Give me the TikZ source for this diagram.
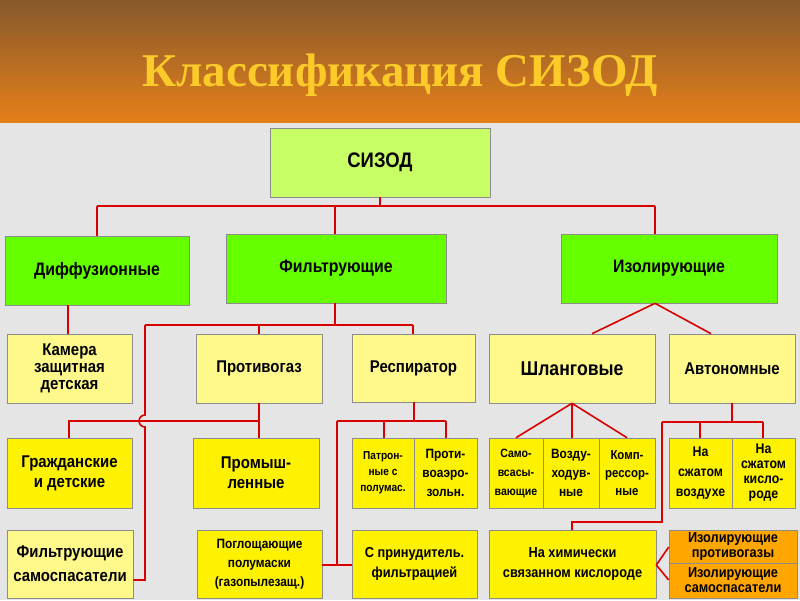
\documentclass[tikz,border=0pt]{standalone}
\usepackage{fontspec}
\setmainfont{Liberation Sans}[FakeStretch=0.88]
\newfontfamily\titlefont{Liberation Serif}
\begin{document}
\begin{tikzpicture}[x=1pt,y=-1pt,
  bx/.style={draw=black!45,line width=0.6pt,inner sep=0pt,align=center,font=\bfseries},
  ln/.style={draw=red!85!black,line width=1.6pt},
  lime/.style={fill=green!60!yellow},
  pale/.style={fill=yellow!45},
  yel/.style={fill=yellow},
  org/.style={fill=orange!70!yellow}]
\useasboundingbox (0,0) rectangle (800,600);
\fill[black!10] (0,122) rectangle (800,600);
\shade[top color=brown!70!black, bottom color=orange!60!brown] (0,0) rectangle (800,122);
\node (title) [font=\titlefont\bfseries\fontsize{47}{50}\selectfont, text=yellow!55!orange!85!white] at (400,75) {Классификация СИЗОД};
% boxes
\newcommand{\bxat}[7]{\node (#1) [bx,#2,minimum width={#5-#3},minimum height={#6-#4},font=\bfseries#7] at ({(#3+#5)/2},{(#4+#6)/2})}
\bxat{root}{fill=green!35!yellow!60}{270}{128}{490}{197}{\fontsize{21}{22}\selectfont}{СИЗОД};
\bxat{dif}{lime}{5}{236}{189}{305}{\fontsize{18}{18}\selectfont}{Диффузионные};
\bxat{fil}{lime}{226}{234}{446}{303}{\fontsize{18}{18}\selectfont}{Фильтрующие};
\bxat{iso}{lime}{561}{234}{777}{303}{\fontsize{18}{18}\selectfont}{Изолирующие};
\bxat{kam}{pale}{7}{334}{132}{403}{\fontsize{17}{17}\selectfont}{Камера\\защитная\\детская};
\bxat{prg}{pale}{196}{334}{322}{403}{\fontsize{17}{17}\selectfont}{Противогаз};
\bxat{res}{pale}{352}{334}{475}{402}{\fontsize{17}{17}\selectfont}{Респиратор};
\bxat{shl}{pale}{489}{334}{655}{403}{\fontsize{20}{20}\selectfont}{Шланговые};
\bxat{avt}{pale}{669}{334}{795}{403}{\fontsize{17}{17}\selectfont}{Автономные};
\bxat{grd}{yel}{7}{438}{132}{508}{\fontsize{17}{20}\selectfont}{Гражданские\\и детские};
\bxat{prm}{yel}{193}{438}{319}{508}{\fontsize{17}{20}\selectfont}{Промыш-\\ленные};
\bxat{pat}{yel}{352}{438}{414}{508}{\fontsize{11.5}{16}\selectfont}{Патрон-\\ные с\\полумас.};
\bxat{pro}{yel}{414}{438}{477}{508}{\fontsize{13.5}{19}\selectfont}{Проти-\\воаэро-\\зольн.};
\bxat{sam}{yel}{489}{438}{543}{508}{\fontsize{12}{19}\selectfont}{Само-\\всасы-\\вающие};
\bxat{voz}{yel}{543}{438}{599}{508}{\fontsize{13.5}{19}\selectfont}{Возду-\\ходув-\\ные};
\bxat{kom}{yel}{599}{438}{655}{508}{\fontsize{13}{18}\selectfont}{Комп-\\рессор-\\ные};
\bxat{szv}{yel}{669}{438}{732}{508}{\fontsize{14}{20}\selectfont}{На\\сжатом\\воздухе};
\bxat{szk}{yel}{732}{438}{795}{508}{\fontsize{14}{15}\selectfont}{На\\сжатом\\кисло-\\роде};
\bxat{fsm}{pale}{7}{530}{133}{598}{\fontsize{17}{24}\selectfont}{Фильтрующие\\самоспасатели};
\bxat{pog}{yel}{197}{530}{322}{598}{\fontsize{13.5}{19}\selectfont}{Поглощающие\\полумаски\\(газопылезащ.)};
\bxat{spf}{yel}{352}{530}{477}{598}{\fontsize{14.5}{20}\selectfont}{С принудитель.\\фильтрацией};
\bxat{him}{yel}{489}{530}{656}{598}{\fontsize{14.5}{20}\selectfont}{На химически\\связанном кислороде};
\bxat{ipg}{org}{669}{530}{797}{563}{\fontsize{14.5}{15}\selectfont}{Изолирующие\\противогазы};
\bxat{isp}{org}{669}{563}{797}{598}{\fontsize{14.5}{15}\selectfont}{Изолирующие\\самоспасатели};
% connectors
\draw[ln] (root.south) -- (380,206) (97,206) -- (655,206);
\draw[ln] (97,206) -- (dif.north-|97,0);
\draw[ln] (fil.north-|335,0) -- (335,206);
\draw[ln] (iso.north-|655,0) -- (655,206);
\draw[ln] (dif.south-|68,0) -- (kam.north-|68,0);
\draw[ln] (fil.south-|335,0) -- (335,325) (145,325) -- (413,325);
\draw[ln] (259,325) -- (prg.north-|259,0);
\draw[ln] (413,325) -- (res.north-|413,0);
\draw[ln] (145,325) -- (145,415) arc[start angle=-90,end angle=90,radius=-6pt] -- (145,580) -- (fsm.east|-0,580);
\draw[ln] (prg.south-|259,0) -- (259,421) -- (69,421) -- (grd.north-|69,0);
\draw[ln] (259,421) -- (prm.north-|259,0);
\draw[ln] (res.south-|414,0) -- (414,421) (337,421) -- (446,421);
\draw[ln] (446,421) -- (pro.north-|446,0);
\draw[ln] (384,421) -- (pat.north-|384,0);
\draw[ln] (337,421) -- (337,565);
\draw[ln] (pog.east|-0,565) -- (spf.west|-0,565);
\draw[ln] (iso.south-|655,0) -- (shl.north-|592,0);
\draw[ln] (iso.south-|655,0) -- (avt.north-|711,0);
\draw[ln] (shl.south-|572,0) -- (sam.north-|516,0);
\draw[ln] (shl.south-|572,0) -- (voz.north-|572,0);
\draw[ln] (shl.south-|572,0) -- (kom.north-|627,0);
\draw[ln] (avt.south-|732,0) -- (732,422) (662,422) -- (763,422);
\draw[ln] (700,422) -- (szv.north-|700,0);
\draw[ln] (763,422) -- (szk.north-|763,0);
\draw[ln] (662,422) -- (662,522) -- (572,522) -- (him.north-|572,0);
\draw[ln] (him.east|-0,565) -- (ipg.west|-0,547);
\draw[ln] (him.east|-0,565) -- (isp.west|-0,580);
\end{tikzpicture}
\end{document}
